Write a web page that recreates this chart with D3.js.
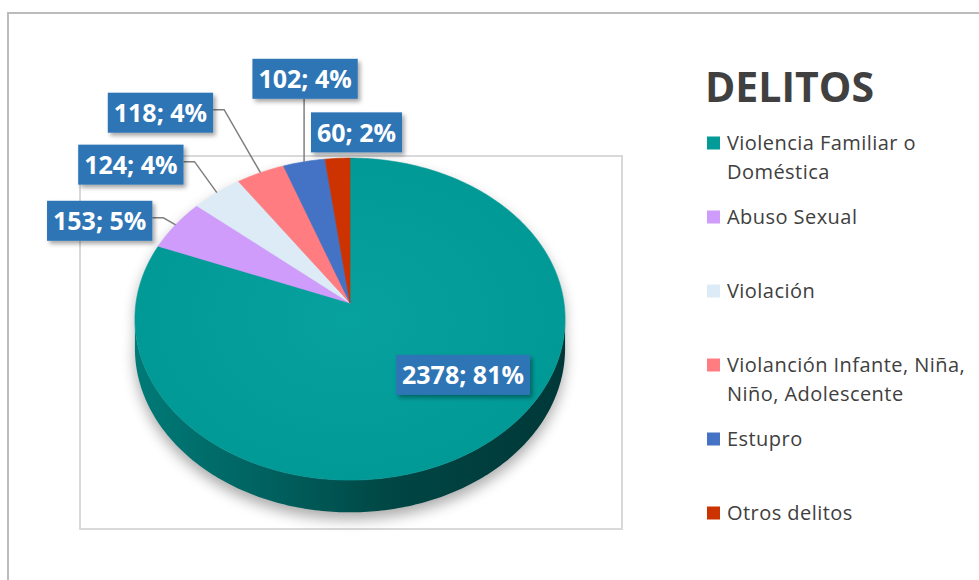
<!DOCTYPE html>
<html>
<head>
<meta charset="utf-8">
<script src="https://cdn.jsdelivr.net/npm/d3@7"></script>
<style>
  html, body { margin: 0; padding: 0; background: #ffffff; }
  svg { display: block; }
</style>
</head>
<body>
<svg id="chart" width="979" height="580"></svg>
<script>
// ---------- DATA ----------
const categories = [
  "Violencia Familiar o Doméstica",
  "Abuso Sexual",
  "Violación",
  "Violanción Infante, Niña, Niño, Adolescente",
  "Estupro",
  "Otros delitos"
];
const values = [2378, 153, 124, 118, 102, 60];
const percentLabels = ["81%", "5%", "4%", "4%", "4%", "2%"];
const legendLines = [
  ["Violencia Familiar o", "Doméstica"],
  ["Abuso Sexual"],
  ["Violación"],
  ["Violanción Infante, Niña,", "Niño, Adolescente"],
  ["Estupro"],
  ["Otros delitos"]
];
const colors = ["#039b98", "#d09cfc", "#ddebf7", "#ff7c80", "#4472c4", "#cc3300"];
const chartTitle = "DELITOS";

// ---------- LAYOUT ----------
const P = { cx: 350, cy: 303, a: 214, b: 159.4, k: 0.1, depth: 29 };
// label centre offsets from each slice's rim anchor
const labelOffsets = [[-18, -72], [-76, -4], [-86, -28], [-100, -60], [1, -83], [19, -26]];

const svg = d3.select("#chart");
const defs = svg.append("defs");

const shadowF = defs.append("filter").attr("id", "pieShadow")
  .attr("x", "-20%").attr("y", "-20%").attr("width", "140%").attr("height", "140%");
shadowF.append("feGaussianBlur").attr("stdDeviation", 7);

const boxF = defs.append("filter").attr("id", "boxShadow")
  .attr("x", "-20%").attr("y", "-30%").attr("width", "150%").attr("height", "170%");
boxF.append("feDropShadow").attr("dx", 2.5).attr("dy", 3).attr("stdDeviation", 2)
  .attr("flood-color", "#000").attr("flood-opacity", 0.35);

const wallGrad = defs.append("linearGradient").attr("id", "wallGrad")
  .attr("gradientUnits", "userSpaceOnUse")
  .attr("x1", P.cx - P.a).attr("x2", P.cx + P.a).attr("y1", 0).attr("y2", 0);
[[0, "#007a77"], [0.3, "#006260"], [0.6, "#004644"], [1, "#003838"]].forEach(([o, c]) =>
  wallGrad.append("stop").attr("offset", o).attr("stop-color", c));

const topGrad = defs.append("radialGradient").attr("id", "topGrad")
  .attr("cx", "50%").attr("cy", "50%").attr("r", "60%");
topGrad.append("stop").attr("offset", 0).attr("stop-color", "#07a19e");
topGrad.append("stop").attr("offset", 1).attr("stop-color", "#009895");

// ---------- FRAMES ----------
svg.append("path")
  .attr("d", "M8,590 L8,13 L990,13")
  .attr("fill", "none").attr("stroke", "#bcbcbc").attr("stroke-width", 2);
svg.append("rect")
  .attr("x", 80).attr("y", 156).attr("width", 542).attr("height", 373)
  .attr("fill", "none").attr("stroke", "#d9d9d9").attr("stroke-width", 2);

// ---------- PROJECTION ----------
function scaleAt(theta) { return 1 / (1 + P.k * Math.cos(theta)); }
function proj(theta, r = 1) {
  const u = r * Math.sin(theta), v = r * Math.cos(theta);
  const s = 1 / (1 + P.k * v);
  return [P.cx + P.a * u * s, P.cy - P.b * v * s];
}
const line = d3.line();
function arcPoints(a0, a1) {
  const pts = [];
  const steps = Math.max(2, Math.ceil(Math.abs(a1 - a0) / (Math.PI / 180)));
  for (let i = 0; i <= steps; i++) pts.push(proj(a0 + (a1 - a0) * i / steps));
  return pts;
}

const pie = d3.pie().sort(null).startAngle(0).endAngle(2 * Math.PI);
const arcs = pie(values);

// ---------- SHADOW ----------
const fullRim = arcPoints(0, 2 * Math.PI);
const thL = Math.acos(-P.k), thR = 2 * Math.PI - Math.acos(-P.k);
const shadowPts = fullRim.map(([x, y], i) => {
  const th = 2 * Math.PI * i / (fullRim.length - 1);
  const c = Math.cos(th);
  const dep = c < 0 ? P.depth * scaleAt(th) : 0;
  return [x, y + dep + 7];
});
svg.append("path").attr("d", line(shadowPts) + "Z")
  .attr("fill", "#000").attr("opacity", 0.33).attr("filter", "url(#pieShadow)");

// ---------- SIDE WALL ----------
const wallTop = [];
const wallBot = [];
const nW = 200;
for (let i = 0; i <= nW; i++) {
  const th = thL + (thR - thL) * i / nW;
  const p = proj(th);
  wallTop.push(p);
  wallBot.push([p[0], p[1] + P.depth * scaleAt(th)]);
}
svg.append("path")
  .attr("d", line(wallTop.concat(wallBot.reverse())) + "Z")
  .attr("fill", "url(#wallGrad)");

// ---------- TOP FACE ----------
const centre = proj(0, 0);
svg.append("g").selectAll("path").data(arcs).join("path")
  .attr("d", d => line([centre].concat(arcPoints(d.startAngle, d.endAngle))) + "Z")
  .attr("fill", (d, i) => i === 0 ? "url(#topGrad)" : colors[i])
  .attr("stroke", (d, i) => i === 0 ? "#039b98" : colors[i])
  .attr("stroke-width", 0.6);

// ---------- DATA LABELS ----------
const labelG = svg.append("g");
arcs.forEach((d, i) => {
  const mid = (d.startAngle + d.endAngle) / 2;
  const anchor = proj(mid);
  const off = labelOffsets[i];
  const cxl = anchor[0] + off[0], cyl = anchor[1] + off[1];
  const txt = values[i] + "; " + percentLabels[i];
  const g = labelG.append("g");
  const t = g.append("text")
    .attr("x", cxl).attr("y", cyl + 9.5)
    .attr("text-anchor", "middle")
    .attr("font-family", "'Open Sans', sans-serif")
    .attr("font-weight", 700).attr("font-size", 25)
    .attr("fill", "#ffffff").text(txt);
  const w = t.node().getComputedTextLength() + 12;
  const h = 40;
  if (i > 0 && i < 5) {
    let pts;
    if (Math.abs(off[0]) < 20) {
      pts = [[anchor[0], cyl + h / 2], anchor];
    } else {
      const rx = cxl + w / 2;
      pts = [[rx, cyl - 3], [rx + 11, cyl - 3], anchor];
    }
    labelG.insert("path", ":first-child").attr("d", line(pts))
      .attr("fill", "none").attr("stroke", "#7f7f7f").attr("stroke-width", 1.5);
  }
  g.insert("rect", "text")
    .attr("x", cxl - w / 2).attr("y", cyl - h / 2)
    .attr("width", w).attr("height", h)
    .attr("fill", "#2e75b6").attr("filter", "url(#boxShadow)");
});

// ---------- LEGEND ----------
const lg = svg.append("g");
lg.append("text").attr("x", 705).attr("y", 102)
  .attr("font-family", "'Open Sans', sans-serif").attr("font-weight", 700)
  .attr("font-size", 41).attr("fill", "#404040").text(chartTitle);

const legendY = d3.scalePoint().domain(categories).range([143, 513]);
categories.forEach((c, i) => {
  const y = legendY(c);
  lg.append("rect").attr("x", 707).attr("y", y - 6.5).attr("width", 13).attr("height", 13)
    .attr("fill", colors[i]);
  const t = lg.append("text").attr("x", 727).attr("y", y + 7)
    .attr("font-family", "'Open Sans', sans-serif").attr("font-size", 20)
    .attr("letter-spacing", 0.45)
    .attr("fill", "#404040");
  legendLines[i].forEach((ln, j) => {
    t.append("tspan").attr("x", 727).attr("dy", j === 0 ? 0 : 28.5).text(ln);
  });
});
</script>
</body>
</html>
